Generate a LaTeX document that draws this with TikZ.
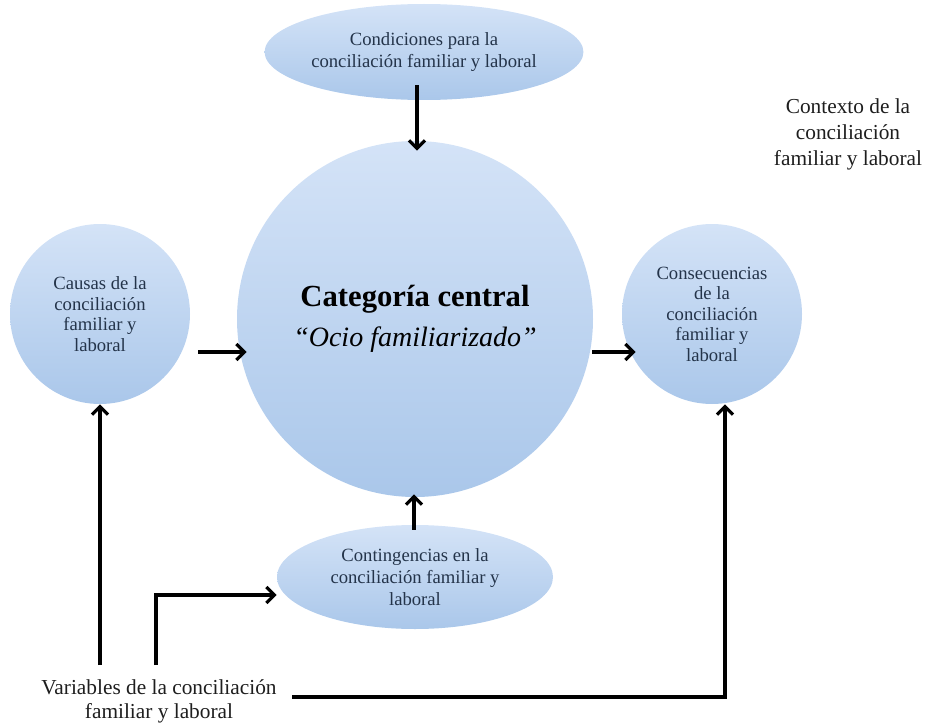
\documentclass[tikz,border=0pt]{standalone}
\usepackage{fontspec}
\setmainfont{Liberation Serif}
\usepackage{tikz}
\usetikzlibrary{arrows.meta,shapes.geometric,calc}

\definecolor{bublight}{HTML}{D4E3F7}
\definecolor{bubdark}{HTML}{AAC7EA}
\definecolor{bubtext}{HTML}{24344A}
\definecolor{plaintext}{HTML}{1E1E1E}

\tikzset{
  bubble/.style={circle, top color=bublight, bottom color=bubdark, draw=none, text=bubtext, align=center, inner sep=0pt, font=\fontsize{14}{15.4}\selectfont},
  oval/.style={ellipse, top color=bublight, bottom color=bubdark, draw=none, text=bubtext, align=center, inner sep=0pt, font=\fontsize{14}{16.5}\selectfont},
  note/.style={text=plaintext, align=center, inner sep=0pt},
  arr/.style={line width=2.5pt, -{Straight Barb[length=6pt,width=12pt]}}
}

\begin{document}
\begin{tikzpicture}[x=0.75pt,y=-0.75pt]
\useasboundingbox (0,0) rectangle (925,724);

\node[oval, minimum width=229pt, minimum height=72pt] (cond) at (424,52) {Condiciones para la\\conciliación familiar y laboral};
\node[bubble, minimum size=267pt, text=black, font=\fontsize{21}{30}\selectfont] (central) at (415,319)
  {{\fontsize{23}{30}\selectfont\bfseries Categoría central}\\{\itshape “Ocio familiarizado”}};
\node[bubble, minimum size=135pt] (causas) at (100,314) {Causas de la\\conciliación\\familiar y\\laboral};
\node[bubble, minimum size=135pt] (cons) at (712,314) {Consecuencias\\de la\\conciliación\\familiar y\\laboral};
\node[oval, minimum width=207pt, minimum height=78pt] (cont) at (415,577) {Contingencias en la\\conciliación familiar y\\laboral};
\node[note, font=\fontsize{16}{19.5}\selectfont] (contexto) at (848,134) {Contexto de la\\conciliación\\familiar y laboral};
\node[note, font=\fontsize{16}{18}\selectfont] (vars) at (159,701) {Variables de la conciliación\\familiar y laboral};

\coordinate (v1) at (100,665);
\coordinate (v2) at (156,665);
\coordinate (v3) at (292,697);

\draw[arr] ($(cond.south)+(-7,-15)$) -- ($(central.north)+(2,10)$);
\draw[arr] ($(cont.north)+(-1,5)$) -- ($(central.south)+(-1,-3)$);
\draw[arr] ($(causas.east)+(8,38)$) -- ($(central.west)+(10,33)$);
\draw[arr] ($(central.east)+(-1,33)$) -- ($(cons.west)+(14,38)$);
\draw[arr] (v1) -- (causas.south);
\draw[arr] (v2) |- ($(cont.west)+(0,18)$);
\draw[arr] (v3) -| ($(cons.south)+(13,0)$);
\end{tikzpicture}
\end{document}
